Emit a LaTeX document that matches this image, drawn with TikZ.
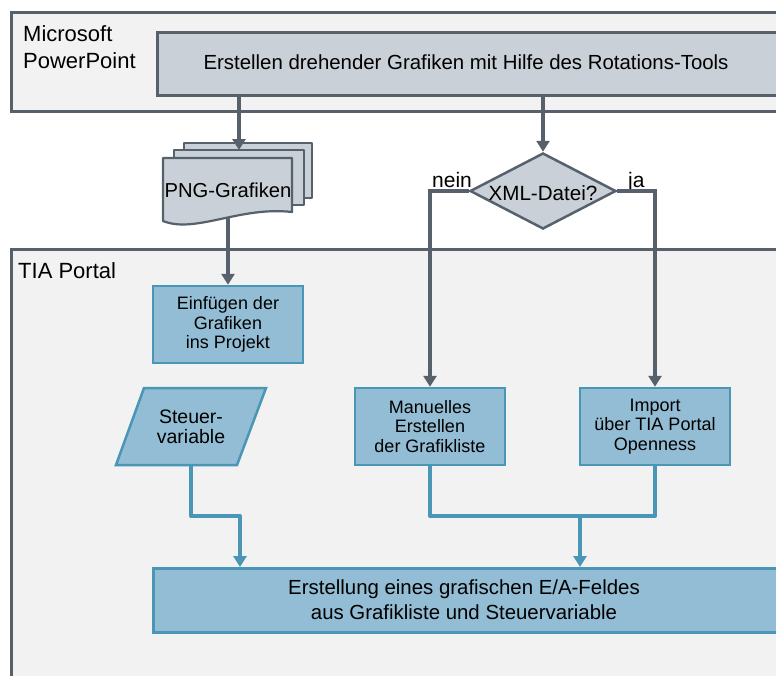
\documentclass[tikz,border=0pt]{standalone}
\usepackage{fontspec}
\setmainfont{Liberation Sans}
\usetikzlibrary{arrows.meta,shapes.geometric}
\definecolor{frameC}{HTML}{56616C}
\definecolor{panelC}{HTML}{F2F2F2}
\definecolor{grayC}{HTML}{C9D0D7}
\definecolor{blueC}{HTML}{93BDD4}
\definecolor{blueL}{HTML}{4A96B6}
\tikzset{
 panelbox/.style={draw=frameC, fill=panelC, line width=2.5pt, anchor=north west, inner sep=0pt},
 graybox/.style={draw=frameC, fill=grayC, line width=2.5pt, anchor=north west, inner sep=0pt},
 sheet/.style={draw=frameC, fill=grayC, line width=2.2pt, line join=round},
 bluebox/.style={draw=blueL, fill=blueC, line width=2.5pt, minimum width=150pt, minimum height=77pt, inner sep=0pt, align=center, font=\fontsize{18}{19.5}\selectfont},
 plaintext/.style={inner sep=0pt, align=center},
 darkarrow/.style={draw=frameC, line width=4pt, -{Triangle[width=13pt,length=11pt]}},
 bluearrow/.style={draw=blueL, line width=4pt, line join=round, -{Triangle[width=13pt,length=11pt]}},
 blueconn/.style={draw=blueL, line width=4pt, line join=round},
}
\begin{document}
\begin{tikzpicture}[x=1pt,y=-1pt]
\useasboundingbox (0,0) rectangle (776,675);
\clip (0,0) rectangle (776,675);
\fill[white] (0,0) rectangle (776,675);

% panels
\node[panelbox, minimum width=800pt, minimum height=99pt] (pp) at (10,11) {};
\node[panelbox, minimum width=800pt, minimum height=460pt] (tia) at (10,248) {};
\node[plaintext, align=left, anchor=base west, font=\fontsize{22}{27}\selectfont] (pplabel) at (23,68) {Microsoft\\PowerPoint};
\node[plaintext, anchor=base west, font=\fontsize{22}{27}\selectfont] (tialabel) at (18,278) {TIA Portal};

% top tool box
\node[graybox, minimum width=700pt, minimum height=63pt] (tool) at (156,31) {};
\node[plaintext, font=\fontsize{20.4}{24}\selectfont] (tooltext) at (466,62.5) {Erstellen drehender Grafiken mit Hilfe des Rotations-Tools};

% PNG stack
\draw[sheet] (184,143) rectangle (312,198);
\draw[sheet] (174,150) rectangle (304,205);
\draw[sheet] (163,221) -- (163,158) -- (292,158) -- (292,212) .. controls (240,206) and (195,234) .. (163,221) -- cycle;
\coordinate (midtop) at (239,150);
\coordinate (pngbot) at (228,218);
\node[plaintext, font=\fontsize{20.2}{24}\selectfont] (png) at (228,190) {PNG-Grafiken};

% diamond
\node[diamond, draw=frameC, fill=grayC, line width=2.5pt, minimum width=146pt, minimum height=76pt, inner sep=0pt] (dia) at (543,191) {};
\node[plaintext, font=\fontsize{20.6}{24}\selectfont] (diatext) at (543,193) {XML-Datei?};
\node[plaintext, anchor=base west, font=\fontsize{21}{24}\selectfont] (nein) at (432,187) {nein};
\node[plaintext, anchor=base west, font=\fontsize{21}{24}\selectfont] (ja) at (628,187) {ja};

% blue boxes
\node[bluebox] (ins) at (228,324.5) {Einfügen der\\Grafiken\\ins Projekt};
\node[bluebox] (man) at (430,426.5) {Manuelles\\Erstellen\\der Grafikliste};
\node[bluebox] (imp) at (655,426.5) {Import\\über TIA Portal\\Openness};

% Steuervariable parallelogram
\draw[draw=blueL, fill=blueC, line width=2.5pt] (144,388) -- (266,388) -- (237,465) -- (116,465) -- cycle;
\node[plaintext, font=\fontsize{19.5}{20}\selectfont] (steuer) at (191,427) {Steuer-\\variable};
\coordinate (steuerbot) at (191,465);

% final box
\node[draw=blueL, fill=blueC, line width=2.5pt, anchor=north west, minimum width=700pt, minimum height=64pt, inner sep=0pt] (final) at (152,567) {};
\node[plaintext, font=\fontsize{20.4}{25}\selectfont] (finaltext) at (464,600) {Erstellung eines grafischen E/A-Feldes\\aus Grafikliste und Steuervariable};

% dark connectors
\draw[darkarrow] (tool.south -| midtop) -- (midtop);
\draw[darkarrow] (pngbot) -- (ins.north);
\draw[darkarrow] (tool.south -| dia.north) -- (dia.north);
\draw[darkarrow] (dia.west) -| (man.north);
\draw[darkarrow] (dia.east) -| (imp.north);

% blue connectors
\coordinate (j1) at (240,516);
\coordinate (j2) at (580,516);
\draw[bluearrow] (steuerbot) |- (j1) -- (j1 |- final.north);
\draw[blueconn] (man.south) |- (j2) -| (imp.south);
\draw[bluearrow] (j2) -- (j2 |- final.north);
\end{tikzpicture}
\end{document}
